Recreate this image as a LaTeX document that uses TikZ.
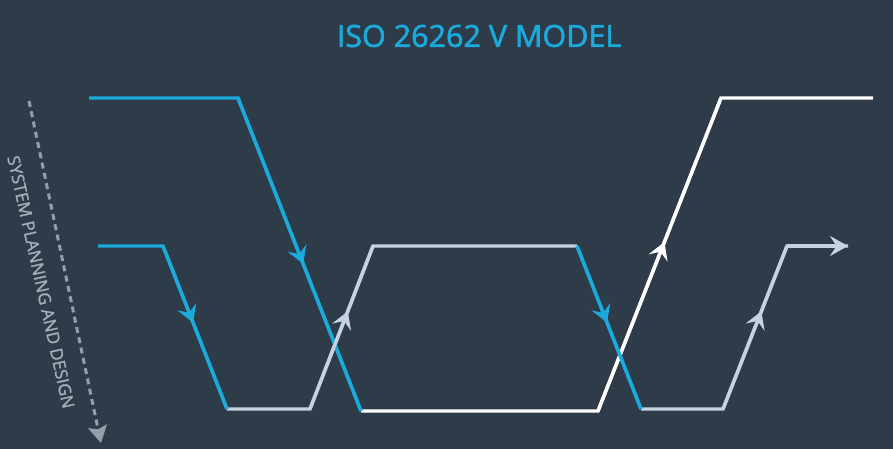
\documentclass[tikz,border=0pt]{standalone}
\usepackage{fontspec}
\setmainfont{Open Sans}
\newfontfamily\semib{Open Sans}[FakeBold=1.8]
\newfontfamily\medf{Open Sans}[FakeBold=1.4]
\usetikzlibrary{arrows.meta,decorations.markings}
\definecolor{bg}{RGB}{46,59,73}
\definecolor{vblue}{RGB}{27,170,220}
\definecolor{vgray}{RGB}{197,211,224}
\definecolor{dgray}{RGB}{150,158,167}
\definecolor{tgray}{RGB}{165,173,182}
\tikzset{
  vline/.style={line width=3.4pt, line join=miter},
  blueline/.style={vline, draw=vblue},
  grayline/.style={vline, draw=vgray},
  whiteline/.style={vline, draw=white},
  midarrow/.style={postaction={decorate}, decoration={markings,
    mark=at position #1 with {\arrow{Stealth[length=17pt,width=20pt,inset=6.5pt]}}}},
}
\begin{document}
\begin{tikzpicture}[x=1pt,y=-1pt]
\fill[bg] (0,0) rectangle (893,449);
\useasboundingbox (0,0) rectangle (893,449);
% title
\node[text=vblue, font=\semib\fontsize{30.5}{33}\selectfont] (title) at (479,36) {ISO 26262 V MODEL};
% outer path
\coordinate (A1) at (89,98);
\coordinate (A2) at (238,98);
\coordinate (A3) at (361,411);
\coordinate (A4) at (598,411);
\coordinate (A5) at (721,98);
\coordinate (A6) at (873,98);
% inner path
\coordinate (B1) at (98,246);
\coordinate (B2) at (163,246);
\coordinate (B3) at (227,409);
\coordinate (B4) at (310,409);
\coordinate (B5) at (373,246);
\coordinate (B6) at (577,246);
\coordinate (B7) at (641,409);
\coordinate (B8) at (723,409);
\coordinate (B9) at (787,246);
\coordinate (B10) at (848,246);
% draw inner first
\draw[grayline] (B3) -- (B4) -- (B5) -- (B6);
\draw[grayline] (B7) -- (B8) -- (B9) -- (B10);
\draw[grayline, -{Stealth[length=18pt,width=20pt,inset=6.5pt]}] (B9) -- (B10);
\draw[blueline] (B1) -- (B2) -- (B3);
\draw[blueline] (B6) -- (B7);
% outer
\draw[whiteline] (A3) -- (A4) -- (A5) -- (A6);
\draw[blueline] (A1) -- (A2) -- (A3);
% mid arrows
\draw[blueline, midarrow=0.53] (A2) -- (A3);
\draw[whiteline, midarrow=0.54] (A4) -- (A5);
\draw[blueline, midarrow=0.47] (B2) -- (B3);
\draw[grayline, midarrow=0.6] (B4) -- (B5);
\draw[blueline, midarrow=0.47] (B6) -- (B7);
\draw[grayline, midarrow=0.6] (B8) -- (B9);
% dashed arrow and label
\coordinate (D1) at (29,101);
\coordinate (D2) at (101,443);
\draw[dgray, line width=3pt, dash pattern=on 6pt off 4.5pt, -{Stealth[length=17pt,width=19pt,inset=3pt]}] (D1) -- (D2);
\node[text=tgray, font=\medf\fontsize{17}{19}\selectfont, rotate=-77.5] (lbl) at (41,282) {SYSTEM PLANNING AND DESIGN};
\end{tikzpicture}
\end{document}
